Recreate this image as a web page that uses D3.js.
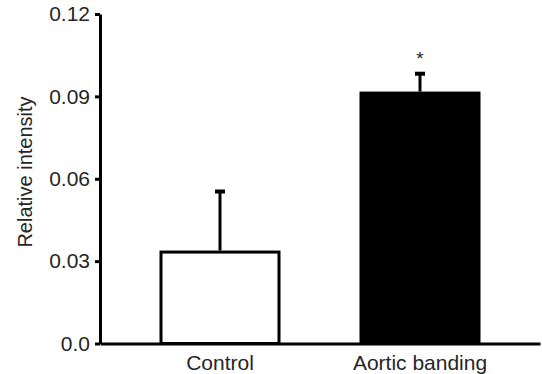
<!DOCTYPE html>
<html>
<head>
<meta charset="utf-8">
<script src="https://cdn.jsdelivr.net/npm/d3@7"></script>
<style>
  body { margin: 0; background: #fff; }
  svg text { font-family: "Liberation Sans", Arial, sans-serif; fill: #262626; }
</style>
</head>
<body>
<div id="chart"></div>
<script>
// data
var groups = ["Control", "Aortic banding"];
var means = [0.0333, 0.0912];
var errors = [0.0226, 0.0076];
var fills = ["#fff", "#000"];
var yTicks = [0, 0.03, 0.06, 0.09, 0.12];
var marks = ["", "*"];

var width = 542, height = 374;
var margin = {top: 14, right: 2, bottom: 31, left: 100};

var svg = d3.select("#chart").append("svg")
    .attr("width", width)
    .attr("height", height);

var x = d3.scaleBand()
    .domain(groups)
    .range([margin.left, width - margin.right])
    .paddingInner(0.395)
    .paddingOuter(0.2975);

var y = d3.scaleLinear()
    .domain([0, 0.12])
    .range([height - margin.bottom + 0.5, margin.top]);

// bars
svg.selectAll("rect.bar")
    .data(groups)
    .enter().append("rect")
    .attr("class", "bar")
    .attr("x", function(d) { return x(d) + 1.5; })
    .attr("width", x.bandwidth() - 3)
    .attr("y", function(d, i) { return y(means[i]); })
    .attr("height", function(d, i) { return y(0) - y(means[i]); })
    .attr("fill", function(d, i) { return fills[i]; })
    .attr("stroke", "#000")
    .attr("stroke-width", 3);

// error bars (upper only)
var cx = function(d) { return x(d) + x.bandwidth() / 2; };
svg.selectAll("line.stem")
    .data(groups)
    .enter().append("line")
    .attr("x1", cx).attr("x2", cx)
    .attr("y1", function(d, i) { return y(means[i]) - 1.5; })
    .attr("y2", function(d, i) { return y(means[i] + errors[i]); })
    .attr("stroke", "#000")
    .attr("stroke-width", 3);
svg.selectAll("line.cap")
    .data(groups)
    .enter().append("line")
    .attr("x1", function(d) { return cx(d) - 5; })
    .attr("x2", function(d) { return cx(d) + 5; })
    .attr("y1", function(d, i) { return y(means[i] + errors[i]) + 1.5; })
    .attr("y2", function(d, i) { return y(means[i] + errors[i]) + 1.5; })
    .attr("stroke", "#000")
    .attr("stroke-width", 4);

// significance mark
svg.selectAll("text.sig")
    .data(groups)
    .enter().append("text")
    .attr("x", cx)
    .attr("y", function(d, i) { return y(means[i] + errors[i]) - 7; })
    .attr("text-anchor", "middle")
    .style("font-size", "19px")
    .text(function(d, i) { return marks[i]; });

// y axis
var yAxis = d3.axisLeft(y)
    .tickValues(yTicks)
    .tickSize(5)
    .tickSizeOuter(0)
    .tickPadding(5)
    .tickFormat(function(d) { return d === 0 ? "0.0" : d3.format(".2f")(d); });
var gy = svg.append("g")
    .attr("transform", "translate(" + margin.left + ",0)")
    .call(yAxis);
gy.select(".domain").attr("stroke", "#000").attr("stroke-width", 3);
gy.selectAll(".tick line").attr("stroke", "#000").attr("stroke-width", 3);
gy.selectAll(".tick text").style("font-size", "21px").attr("fill", "#262626");

// x axis
var gx = svg.append("g")
    .attr("transform", "translate(0," + y(0) + ")")
    .call(d3.axisBottom(x).tickSize(0).tickSizeOuter(0).tickPadding(12));
gx.select(".domain").attr("stroke", "#000").attr("stroke-width", 3);
gx.selectAll(".tick text").style("font-size", "21px").attr("fill", "#262626");

// y label
svg.append("text")
    .attr("transform", "rotate(-90)")
    .attr("x", -172)
    .attr("y", 32)
    .attr("text-anchor", "middle")
    .style("font-size", "20px")
    .text("Relative intensity");
</script>
</body>
</html>
